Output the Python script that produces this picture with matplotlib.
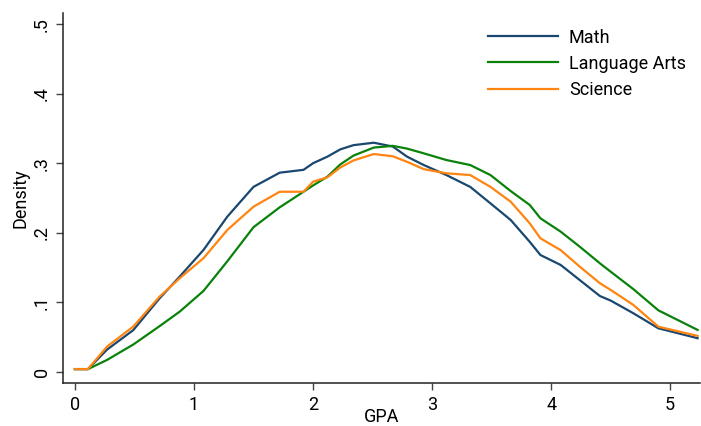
import numpy as np
import matplotlib
matplotlib.use("Agg")
import matplotlib.pyplot as plt

plt.rcParams['font.family'] = ['Liberation Sans Narrow', 'Roboto', 'DejaVu Sans']

# GPA grid and density of each subject
gpa = [0.0, 0.11, 0.27, 0.49, 0.71, 0.88, 1.08, 1.28, 1.50, 1.72, 1.92, 2.00, 2.12,
       2.23, 2.34, 2.51, 2.67, 2.79, 2.93, 3.12, 3.32, 3.49, 3.66, 3.82, 3.91, 4.08,
       4.24, 4.41, 4.50, 4.69, 4.90, 5.23]
math = [0.004, 0.004, 0.032, 0.060, 0.1055, 0.137, 0.1753, 0.2232, 0.266, 0.2864,
        0.2905, 0.300, 0.3094, 0.320, 0.326, 0.3295, 0.324, 0.3094, 0.2974, 0.283,
        0.266, 0.2423, 0.2184, 0.187, 0.168, 0.1537, 0.132, 0.109, 0.1025, 0.0843,
        0.0627, 0.0484]
lang = [0.004, 0.004, 0.0172, 0.0393, 0.0656, 0.0866, 0.1164, 0.159, 0.208, 0.2366,
        0.259, 0.268, 0.2806, 0.2984, 0.311, 0.3225, 0.325, 0.321, 0.3142, 0.3046,
        0.2974, 0.283, 0.260, 0.240, 0.2208, 0.2016, 0.180, 0.156, 0.144, 0.119,
        0.0885, 0.0603]
science = [0.004, 0.004, 0.0364, 0.0651, 0.108, 0.1346, 0.1635, 0.204, 0.2375, 0.259,
           0.259, 0.2734, 0.2797, 0.294, 0.304, 0.3132, 0.310, 0.302, 0.2915, 0.2855,
           0.283, 0.266, 0.2447, 0.2136, 0.192, 0.175, 0.1513, 0.1274, 0.1178, 0.0963,
           0.065, 0.0517]

series = [("Math", math, "#1a476f"),
          ("Language Arts", lang, "#0a820a"),
          ("Science", science, "#ff8410")]

fig = plt.figure(figsize=(7.01, 4.26), dpi=100)
ax = fig.add_axes([63/701, 1 - 383/426, (700 - 63)/701, (383 - 13)/426])

for name, vals, col in series:
    ax.plot(gpa, vals, color=col, lw=1.6, label=name)

ax.set_xlim(-0.1, 5.25)
ax.set_ylim(-0.016, 0.516)
ax.set_xticks([0, 1, 2, 3, 4, 5])
ax.set_yticks([0, 0.1, 0.2, 0.3, 0.4, 0.5])
ax.set_yticklabels(["0", ".1", ".2", ".3", ".4", ".5"], rotation=90, va='center')
ax.tick_params(labelsize=13, length=5, width=1, color='#444444', pad=4)
for s in ['top', 'right']:
    ax.spines[s].set_visible(False)
for s in ['left', 'bottom']:
    ax.spines[s].set_linewidth(1.1)
    ax.spines[s].set_color('#222222')

ax.set_xlabel("GPA", fontsize=13, labelpad=-4)
ax.set_ylabel("Density", fontsize=13, labelpad=2)

ax.legend(loc='upper left', bbox_to_anchor=(412/637, 1 - 3/370), frameon=False,
          fontsize=13, handlelength=3.9, handletextpad=0.6, labelspacing=0.45,
          borderaxespad=0.3)

fig.savefig("out.png", dpi=100)
